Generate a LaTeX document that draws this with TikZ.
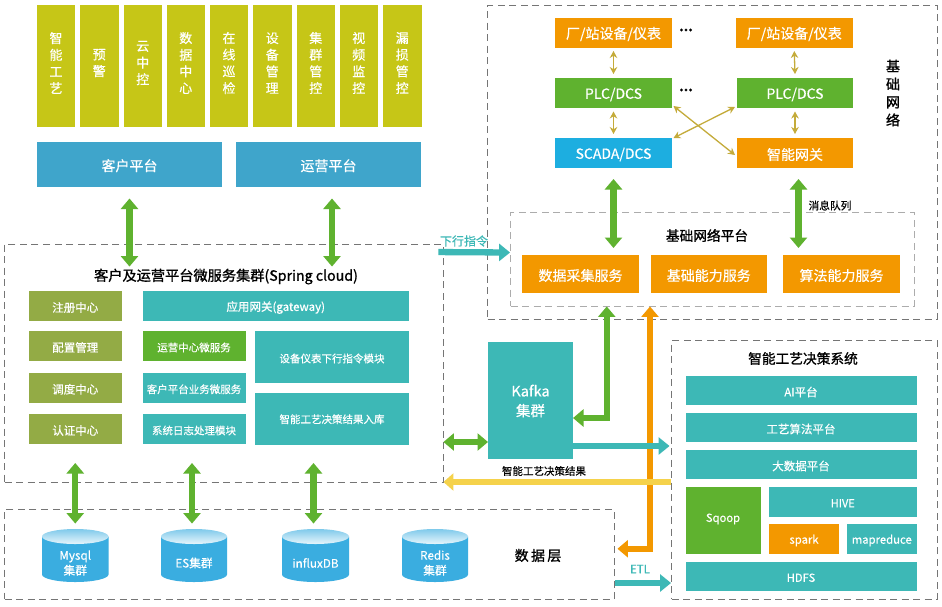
\documentclass[tikz,border=0pt]{standalone}
\usepackage{fontspec}
\setmainfont{Noto Sans CJK SC}[RawFeature={embolden=0.5}]
\newfontfamily\ttlfont{Noto Sans CJK SC}[RawFeature={embolden=1.2}]
\usetikzlibrary{arrows.meta,calc}
\definecolor{cOlive}{HTML}{C6C617}
\definecolor{cPlat}{HTML}{3FA5CB}
\definecolor{cMoss}{HTML}{93AB45}
\definecolor{cTeal}{HTML}{3DB8B6}
\definecolor{cGreen}{HTML}{5FB22F}
\definecolor{cOrange}{HTML}{F39800}
\definecolor{cSky}{HTML}{1DAEE0}
\definecolor{cCyl}{HTML}{3AADE0}
\definecolor{cGold}{HTML}{C4AB3A}
\definecolor{cYellow}{HTML}{F5D24B}
\definecolor{cDash}{HTML}{757575}
\tikzset{
  bxs/.style={inner sep=0pt,outer sep=0pt,text=white,align=center},
  dashbox/.style={draw=cDash,line width=0.9pt,dash pattern=on 7pt off 4.5pt,inner sep=0pt},
  dashlight/.style={draw=cDash!60,line width=0.9pt,dash pattern=on 7pt off 4.5pt,inner sep=0pt},
  fat/.style={line width=6.3pt,line join=miter},
  greenboth/.style={fat,draw=cGreen,{Triangle[width=17pt,length=10.5pt]}-{Triangle[width=17pt,length=10.5pt]}},
  orangeboth/.style={fat,draw=cOrange,{Triangle[width=17pt,length=10.5pt]}-{Triangle[width=17pt,length=10.5pt]}},
  tealone/.style={fat,draw=cTeal,-{Triangle[width=17pt,length=11pt]}},
  yellowone/.style={fat,draw=cYellow,-{Triangle[width=17pt,length=10pt]}},
  thinboth/.style={draw=cGold,line width=1.3pt,{Stealth[width=7.5pt,length=7pt]}-{Stealth[width=7.5pt,length=7pt]}},
  lbl/.style={inner sep=0pt,outer sep=0pt,text=black},
  fs/.style={font=\fontsize{#1}{#1}\selectfont},
  ttl/.style={font=\fontsize{#1}{#1}\selectfont\ttlfont}
}
\newcommand{\tdy}{-1.5pt}
% name, x0, y0, x1, y1, colour, font size, text
\newcommand{\bx}[8]{%
  \pgfmathsetmacro{\cxx}{(#2+#4)/2}\pgfmathsetmacro{\cyy}{(#3+#5)/2}%
  \pgfmathsetmacro{\www}{#4-#2}\pgfmathsetmacro{\hhh}{#5-#3}%
  \node[bxs,fill=#6,minimum width=\www pt,minimum height=\hhh pt,
    label={[bxs,yshift=\tdy,font=\fontsize{#7}{16.7}\selectfont,name=#1-t]center:{#8}}] (#1) at (\cxx,\cyy) {};}
% name, x0, x1, text
\newcommand{\cyl}[4]{%
  \pgfmathsetmacro{\cxx}{(#2+#3)/2}\pgfmathsetmacro{\rxx}{(#3-#2)/2}%
  \fill[cCyl] (#2,536.5) -- (#2,574.5) arc[start angle=180,end angle=360,x radius=\rxx pt,y radius=7.5pt] -- (#3,536.5) -- cycle;
  \shade[top color=cCyl!65!white,bottom color=cCyl!12!white,shading angle=0] (\cxx,536.5) ellipse[x radius=\rxx pt,y radius=7.5pt];
  \node[bxs,font=\fontsize{11.7}{15}\selectfont] (#1) at (\cxx,563) {#4};}
\begin{document}
\begin{tikzpicture}[x=1pt,y=-1pt]
\useasboundingbox (0,0) rectangle (942,606);
\fill[white] (0,0) rectangle (942,606);

% dashed frames
\node[dashbox,minimum width=438.5pt,minimum height=238pt] (micro) at (223.75,363) {};
\node[dashbox,minimum width=609.5pt,minimum height=89.5pt] (datalayer) at (309.25,554.25) {};
\node[dashbox,minimum width=449.5pt,minimum height=314pt] (basenet) at (712.25,162) {};
\node[dashlight,minimum width=403.5pt,minimum height=93.5pt] (baseplat) at (712.25,259.25) {};
\node[dashbox,minimum width=265.5pt,minimum height=258.5pt] (decision) at (804.25,469.75) {};

% top columns
\renewcommand{\tdy}{3pt}
\bx{c1}{37}{5}{75}{127}{cOlive}{13}{智\\能\\工\\艺}
\bx{c2}{80}{5}{118.5}{127}{cOlive}{13}{预\\警}
\bx{c3}{123.5}{5}{162}{127}{cOlive}{13}{云\\中\\控}
\bx{c4}{166.5}{5}{205}{127}{cOlive}{13}{数\\据\\中\\心}
\bx{c5}{210}{5}{248}{127}{cOlive}{13}{在\\线\\巡\\检}
\bx{c6}{253}{5}{291.5}{127}{cOlive}{13}{设\\备\\管\\理}
\bx{c7}{296.5}{5}{335}{127}{cOlive}{13}{集\\群\\管\\控}
\bx{c8}{339.5}{5}{378}{127}{cOlive}{13}{视\\频\\监\\控}
\bx{c9}{383}{5}{421.5}{127}{cOlive}{13}{漏\\损\\管\\控}
\renewcommand{\tdy}{-1.5pt}

\bx{cust}{37}{142}{222}{186.5}{cPlat}{14}{客户平台}
\bx{oper}{236}{142}{421}{186.5}{cPlat}{14}{运营平台}

% microservice cluster
\node[lbl,ttl=14.2] (microtitle) at (226,276.5) {客户及运营平台微服务集群(Spring cloud)};
\bx{reg}{29}{291}{121.5}{321}{cMoss}{11.5}{注册中心}
\bx{conf}{29}{331}{121.5}{361}{cMoss}{11.5}{配置管理}
\bx{sched}{29}{373}{121.5}{402.5}{cMoss}{11.5}{调度中心}
\bx{auth}{29}{414}{121.5}{444}{cMoss}{11.5}{认证中心}
\bx{gate}{142.5}{291}{409}{321}{cTeal}{11.5}{应用网关(gateway)}
\bx{opsvc}{142.5}{331}{245.5}{361}{cGreen}{10.5}{运营中心微服务}
\bx{cusvc}{142.5}{373}{245.5}{402.5}{cTeal}{10.5}{客户平台业务微服务}
\bx{logm}{142.5}{414}{245.5}{444}{cTeal}{10.5}{系统日志处理模块}
\bx{downm}{255}{331}{409}{383}{cTeal}{10.5}{设备仪表下行指令模块}
\renewcommand{\tdy}{-0.5pt}
\bx{resm}{255}{393}{409}{444.5}{cTeal}{10.5}{智能工艺决策结果入库}
\renewcommand{\tdy}{-1.5pt}

% data layer
\cyl{mysql}{42}{108.5}{Mysql\\集群}
\cyl{es}{161}{227}{ES集群}
\cyl{influx}{282}{349}{influxDB}
\cyl{redis}{402}{468}{Redis\\集群}
\node[lbl,ttl=14] (datatitle) at (538,555.5) {数\,据\,层};

% base network
\bx{dev1}{555}{17.5}{672}{47.5}{cOrange}{14}{厂/站设备/仪表}
\bx{dev2}{736}{17.5}{852.5}{47.5}{cOrange}{14}{厂/站设备/仪表}
\bx{plc1}{555}{78}{672}{108}{cGreen}{14}{PLC/DCS}
\bx{plc2}{737}{78}{853}{108}{cGreen}{14}{PLC/DCS}
\bx{scada}{555}{138}{672}{168}{cSky}{14}{SCADA/DCS}
\bx{gw}{737}{138}{853}{168}{cOrange}{14}{智能网关}
\node[lbl,fs=13] (dots1) at (686,30) {\textbf{...}};
\node[lbl,fs=13] (dots2) at (686,90) {\textbf{...}};
\node[lbl,align=center,font=\fontsize{14}{18}\selectfont\ttlfont] (basetitle) at (893,93) {基\\础\\网\\络};
\node[lbl,ttl=13.7] (plattitle) at (707,235.5) {基础网络平台};
\bx{collect}{522}{255}{639}{293}{cOrange}{14}{数据采集服务}
\bx{ability}{650.5}{255}{767}{293}{cOrange}{14}{基础能力服务}
\bx{algo}{783}{255}{900}{293}{cOrange}{14}{算法能力服务}
\node[lbl,fs=10.7] (mq) at (830,205.5) {消息队列};

% kafka
\renewcommand{\tdy}{-0.5pt}
\bx{kafka}{488}{342}{573}{459}{cTeal}{14.5}{Kafka\\[3pt]集群}
\renewcommand{\tdy}{-1.5pt}

% decision system
\node[lbl,ttl=13.7] (dectitle) at (803,358.5) {智能工艺决策系统};
\bx{ai}{685.5}{376}{916.5}{405}{cTeal}{11.5}{AI平台}
\bx{craft}{685.5}{413}{916.5}{442}{cTeal}{11.5}{工艺算法平台}
\bx{bigd}{685.5}{450}{916.5}{479}{cTeal}{11.5}{大数据平台}
\renewcommand{\tdy}{1.5pt}
\bx{sqoop}{685.5}{487}{760.5}{554}{cGreen}{11.2}{Sqoop}
\renewcommand{\tdy}{-1.5pt}
\bx{hive}{769}{487}{916.5}{516.5}{cTeal}{11}{HIVE}
\bx{spark}{769}{524}{839}{554}{cOrange}{11.3}{spark}
\bx{mapr}{847}{524}{916.5}{554}{cTeal}{11.3}{mapreduce}
\bx{hdfs}{685.5}{561.5}{916.5}{591}{cTeal}{11.2}{HDFS}

% thin gold connectors
\draw[thinboth] ([yshift=-3.5pt]dev1.south) -- ([yshift=4pt]plc1.north);
\draw[thinboth] ([yshift=-3.5pt]plc1.south) -- ([yshift=4pt]scada.north);
\draw[thinboth] ([yshift=-3.5pt]dev2.south) -- ([yshift=4pt]plc2.north);
\draw[thinboth] ([yshift=-3.5pt]plc2.south) -- ([yshift=4pt]gw.north);
\draw[thinboth] ([xshift=1.5pt,yshift=2pt]plc1.south east) -- ([xshift=-2pt,yshift=-2pt]gw.west);
\draw[thinboth] ([xshift=1.5pt]scada.north east) -- ([xshift=-2pt,yshift=1pt]plc2.south west);

% thick connectors
\draw[greenboth] ([yshift=-12pt]cust.south) -- ([yshift=-23pt]micro.north -| cust.south);
\draw[greenboth] ([xshift=3.5pt,yshift=-12pt]oper.south) -- ([xshift=3.5pt,yshift=-23pt]micro.north -| oper.south);
\draw[greenboth] ([yshift=-19pt]auth.south) -- ([yshift=-14.5pt]datalayer.north -| mysql.north);
\draw[greenboth] ([yshift=-19pt,xshift=-2pt]logm.south) -- ([yshift=-14.5pt,xshift=-2pt]datalayer.north -| logm.south);
\draw[greenboth] ([yshift=-18.5pt,xshift=-18.5pt]resm.south) -- ([yshift=-14.5pt,xshift=-18.5pt]datalayer.north -| resm.south);
\draw[greenboth] ([yshift=-11pt]scada.south) -- ([yshift=7pt]collect.north -| scada.south);
\draw[greenboth] ([xshift=3.5pt,yshift=-11pt]gw.south) -- ([xshift=3.5pt,yshift=7pt]algo.north -| gw.south);
\draw[orangeboth] ([xshift=-62.25pt]baseplat.south) |- ([xshift=3pt,yshift=5.5pt]datalayer.east);
\draw[greenboth] ([xshift=-105.5pt]baseplat.south) |- ([yshift=-17.5pt]kafka.east);
\draw[greenboth] ([yshift=-79pt]micro.east) -- ([yshift=-41.5pt]kafka.west);
\draw[tealone] ([yshift=-45.5pt]kafka.east) -- ([xshift=-1.5pt,yshift=23.75pt]decision.west);
\draw[yellowone] ([yshift=-12.25pt]decision.west) -- ([yshift=-119pt]micro.east);
\draw[tealone] ([xshift=-5pt,yshift=-8.5pt]micro.north east) -- ([yshift=6.75pt]baseplat.west);
\draw[tealone] ([xshift=1pt,yshift=-28.75pt]datalayer.east) -- ([yshift=-113.25pt]decision.west);

\node[lbl,text=cTeal,fs=12] (dnlabel) at (464,241) {下行指令};
\node[lbl,fs=10.5] (reslabel) at (544,471) {智能工艺决策结果};
\node[lbl,text=cTeal,fs=11.5] (etllabel) at (640,569) {ETL};
\end{tikzpicture}
\end{document}
